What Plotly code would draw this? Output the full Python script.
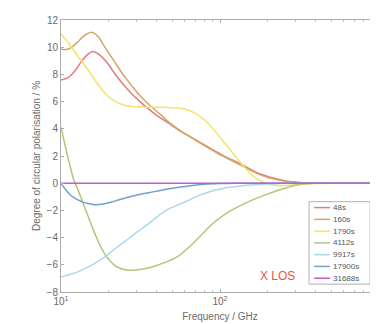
import plotly.graph_objects as go

# ---------------- data ----------------
labels = ["48s", "160s", "1790s", "4112s", "9917s", "17900s", "31688s"]
colors = ["#e27c80", "#d2a664", "#f3e36a", "#b4c478", "#acd8ee", "#72a2cc", "#c45ad4"]

f_48 = [10, 11, 11.6, 12.5, 13.4, 14.5, 15.6, 16.5, 17.5, 19.5, 21.7, 24.5, 27.6, 31, 35, 40.6, 47,
        54.2, 62, 72, 83, 96.5, 110, 129, 150, 172, 200, 229, 264, 320, 400, 500, 1000]
v_48 = [7.59, 7.75, 7.96, 8.4, 8.94, 9.4, 9.67, 9.62, 9.43, 8.85, 8.09, 7.3, 6.62, 6.05, 5.52, 4.93, 4.45,
        3.96, 3.55, 3.11, 2.7, 2.26, 1.9, 1.53, 1.13, 0.75, 0.5, 0.31, 0.14, 0.05, 0.01, 0, 0]

f_160 = [10, 11, 12, 12.8, 14, 15.3, 16, 17.1, 19, 21.7, 24.5, 27.6, 31, 35, 42.5, 47, 54.2, 62, 72,
         83, 96.5, 110, 129, 150, 172, 200, 229, 264, 320, 400, 500, 1000]
v_160 = [9.85, 9.85, 10.1, 10.41, 10.85, 11.09, 11.05, 10.78, 9.95, 8.94, 8.0, 7.23, 6.5, 5.88, 5.02, 4.55,
         4.0, 3.55, 3.08, 2.65, 2.2, 1.85, 1.45, 1.05, 0.7, 0.42, 0.25, 0.12, 0.04, 0.01, 0, 0]

f_1790 = [10, 11, 12.2, 13.4, 14.8, 16.2, 17.8, 19.5, 21.7, 24, 26.3, 30, 35, 40.6, 47, 54.2, 60, 65.6,
          74, 83.5, 95, 106, 118, 129, 142, 156, 172, 189, 210, 240, 280, 330, 400, 500, 1000]
v_1790 = [10.97, 10.4, 9.67, 9.0, 8.33, 7.65, 6.98, 6.45, 6.05, 5.8, 5.68, 5.62, 5.59, 5.59, 5.57, 5.53,
          5.45, 5.3, 4.95, 4.45, 3.7, 2.99, 2.35, 1.77, 1.2, 0.68, 0.3, 0.05, -0.12, -0.18, -0.14, -0.07,
          -0.02, 0, 0]

f_4112 = [10, 11, 12, 12.8, 13.8, 14.8, 16, 17.1, 18, 19.2, 20.5, 21.7, 23, 25, 27.5, 30.4, 34, 38.7,
          46.9, 54, 62.5, 70, 75.7, 84, 92, 104, 117, 148, 198, 264, 320, 400, 1000]
v_4112 = [4.1, 2.0, 0.3, -0.49, -1.5, -2.43, -3.45, -4.25, -4.8, -5.35, -5.75, -6.02, -6.2, -6.35, -6.4,
          -6.37, -6.27, -6.1, -5.75, -5.4, -4.8, -4.25, -3.85, -3.3, -2.87, -2.4, -2.02, -1.41, -0.8, -0.32,
          -0.07, 0, 0]

f_9917 = [10, 11.5, 13.4, 16, 18.8, 22, 26.3, 30, 35, 40, 45.7, 53, 62.5, 72, 83.5, 96, 111, 135, 164,
          200, 240, 300, 1000]
v_9917 = [-6.9, -6.7, -6.41, -5.95, -5.44, -4.8, -4.12, -3.6, -3.03, -2.5, -2.0, -1.65, -1.29, -0.95,
          -0.68, -0.48, -0.32, -0.2, -0.12, -0.06, -0.02, 0, 0]

f_17900 = [10, 10.5, 11.2, 12, 13.4, 14.8, 16.3, 18, 19.7, 22, 24.5, 27.6, 32, 38.7, 46, 55, 65, 80,
           100, 130, 1000]
v_17900 = [0, -0.35, -0.75, -1.05, -1.34, -1.5, -1.58, -1.55, -1.46, -1.3, -1.14, -0.98, -0.8, -0.62,
           -0.45, -0.3, -0.18, -0.07, -0.02, 0, 0]

f_31688 = [10, 100, 1000]
v_31688 = [0, 0, 0]

xtick_vals = [10, 100, 1000]
xtick_text = ["10<sup>1</sup>", "10<sup>2</sup>", "10<sup>3</sup>"]
x_minor = [20, 30, 40, 50, 60, 70, 80, 90, 200, 300, 400, 500, 600, 700, 800, 900]
ytick_vals = [-8, -6, -4, -2, 0, 2, 4, 6, 8, 10, 12]

series = [(f_48, v_48), (f_160, v_160), (f_1790, v_1790), (f_4112, v_4112),
          (f_9917, v_9917), (f_17900, v_17900), (f_31688, v_31688)]

# ---------------- figure ----------------
fig = go.Figure()
for (fx, fy), name, c in zip(series, labels, colors):
    fig.add_trace(go.Scatter(x=fx, y=fy, mode="lines", name=name,
                             line=dict(color=c, width=1.5, shape="spline", smoothing=0.8),
                             showlegend=False, hoverinfo="skip"))

font_family = "Liberation Sans, Arial, sans-serif"
txt_color = "#6a6a6a"
axis_common = dict(showline=True, linecolor="#acacac", linewidth=1, mirror="allticks",
                   ticks="inside", ticklen=3, tickcolor="#acacac", showgrid=False, zeroline=False,
                   tickfont=dict(size=10, color=txt_color, family=font_family))

fig.update_xaxes(type="log", range=[1, 3], tickmode="array", tickvals=xtick_vals, ticktext=xtick_text,
                 minor=dict(tickvals=x_minor, ticks="inside", ticklen=2, tickcolor="#bcbcbc"),
                 title=dict(text="Frequency / GHz", font=dict(size=10, color=txt_color, family=font_family),
                            standoff=6),
                 **axis_common)
fig.update_yaxes(range=[-8, 12], tickmode="array", tickvals=ytick_vals,
                 title=dict(text="Degree of circular polarisation / %",
                            font=dict(size=10, color=txt_color, family=font_family), standoff=4),
                 **axis_common)

# manual legend box (paper coords)
lx0, lx1, ly_top, ly_bot = 0.78, 0.972, 0.332, 0.029
fig.add_shape(type="rect", xref="paper", yref="paper", x0=lx0, x1=lx1, y0=ly_bot, y1=ly_top,
              line=dict(color="#b0b0b0", width=1), fillcolor="white", layer="above")
step = (ly_top - ly_bot) / len(labels)
for i, (name, c) in enumerate(zip(labels, colors)):
    yy = ly_top - step * (i + 0.5)
    fig.add_shape(type="line", xref="paper", yref="paper", x0=lx0 + 0.016, x1=lx0 + 0.066, y0=yy, y1=yy,
                  line=dict(color=c, width=1.5), layer="above")
    fig.add_annotation(xref="paper", yref="paper", x=lx0 + 0.07, y=yy, text=name, showarrow=False,
                       xanchor="left", yanchor="middle",
                       font=dict(size=8, color="#555555", family=font_family))

fig.add_annotation(xref="paper", yref="paper", x=0.68, y=0.06, text="X LOS", showarrow=False,
                   xanchor="center", yanchor="middle",
                   font=dict(size=12, color="#e8553f", family=font_family))

fig.update_layout(width=378, height=324, margin=dict(l=53, r=6, t=10, b=40),
                  paper_bgcolor="white", plot_bgcolor="white",
                  font=dict(family=font_family, color=txt_color))

fig.write_html("out.html")
